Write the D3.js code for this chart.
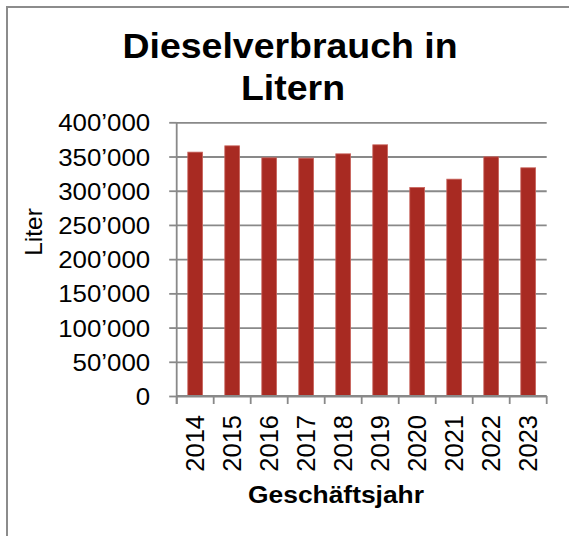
<!DOCTYPE html>
<html>
<head>
<meta charset="utf-8">
<script src="https://cdn.jsdelivr.net/npm/d3@7"></script>
<style>
  body { margin: 0; background: #fff; }
  text { font-family: Arial, "Liberation Sans", sans-serif; fill: #000; }
</style>
</head>
<body>
<div id="chart"></div>
<script>
// chart data
var years = ["2014", "2015", "2016", "2017", "2018", "2019", "2020", "2021", "2022", "2023"];
var liters = [356400, 365600, 348100, 347600, 353900, 367100, 304700, 316900, 349500, 333500];
var yTicks = [0, 50000, 100000, 150000, 200000, 250000, 300000, 350000, 400000];
var titleLines = ["Dieselverbrauch in", "Litern"];
var yTitle = "Liter";
var xTitle = "Geschäftsjahr";

var width = 569, height = 536;
var margin = { top: 122.3, right: 22.3, bottom: 140, left: 176.7 };
var plotW = width - margin.left - margin.right;
var plotH = height - margin.top - margin.bottom;
var gridColor = "#898989";

var fmt = d3.formatLocale({ decimal: ".", thousands: "\u2019", grouping: [3], currency: ["", ""] }).format(",");

var svg = d3.select("#chart").append("svg")
   .attr("width", width)
   .attr("height", height);

// outer frame (only left and top edges are visible in the crop)
svg.append("path")
   .attr("d", "M7,536V7H569")
   .attr("fill", "none")
   .attr("stroke", "#8c8c8c")
   .attr("stroke-width", 2);

// title
svg.append("g").selectAll("text")
   .data(titleLines)
   .enter().append("text")
   .attr("transform", function (d, i) {
      return "translate(" + (i === 0 ? 290 : 293) + "," + (i === 0 ? 58 : 100) + ") scale(1.07,1)";
   })
   .attr("text-anchor", "middle")
   .style("font-size", "35px")
   .style("font-weight", "bold")
   .text(function (d) { return d; });

var xCat = d3.scaleBand()
   .domain(years)
   .range([0, plotW]);

var xBar = d3.scaleBand()
   .domain(years)
   .range([0, plotW])
   .paddingInner(0.6)
   .paddingOuter(0.3);

var yScale = d3.scaleLinear()
   .domain([0, 400000])
   .range([plotH, 0]);

var g = svg.append("g")
   .attr("transform", "translate(" + margin.left + "," + margin.top + ")");

// gridlines
var grid = g.append("g")
   .call(d3.axisLeft(yScale).tickValues(yTicks).tickSize(-plotW).tickFormat(""));
grid.select(".domain").remove();
grid.selectAll("line")
   .attr("stroke", gridColor)
   .attr("stroke-width", 1.8);

// bars
g.append("g").selectAll("rect")
   .data(liters)
   .enter().append("rect")
   .attr("x", function (d, i) { return xBar(years[i]); })
   .attr("y", function (d) { return yScale(d); })
   .attr("width", xBar.bandwidth())
   .attr("height", function (d) { return plotH - yScale(d); })
   .attr("fill", "#a82a22")
   .attr("stroke", "#c9645d")
   .attr("stroke-width", 0.8);

// y axis
var gY = g.append("g")
   .call(d3.axisLeft(yScale).tickValues(yTicks).tickSize(7.5).tickPadding(0).tickFormat(fmt));
gY.select(".domain")
   .attr("d", "M0,0V" + (plotH + 8))
   .attr("stroke", gridColor)
   .attr("stroke-width", 1.8);
gY.selectAll(".tick line")
   .attr("stroke", gridColor)
   .attr("stroke-width", 1.8);
gY.selectAll(".tick text")
   .attr("x", null)
   .attr("dy", null)
   .attr("transform", "translate(-26.5,8.5) scale(1.1,1)")
   .style("font-size", "23.5px")
   .style("font-family", "Arial, 'Liberation Sans', sans-serif")
   .attr("fill", "#000");

// x axis baseline and category boundary ticks
var gX = g.append("g")
   .attr("transform", "translate(0," + plotH + ")");
gX.append("line")
   .attr("x1", 0).attr("x2", plotW)
   .attr("stroke", gridColor)
   .attr("stroke-width", 1.8);
gX.selectAll(".bound")
   .data(years.concat(["end"]))
   .enter().append("line")
   .attr("class", "bound")
   .attr("x1", function (d) { return d === "end" ? plotW : xCat(d); })
   .attr("x2", function (d) { return d === "end" ? plotW : xCat(d); })
   .attr("y1", 0).attr("y2", 8)
   .attr("stroke", gridColor)
   .attr("stroke-width", 1.8);

// x labels
gX.selectAll(".lbl")
   .data(years)
   .enter().append("text")
   .attr("class", "lbl")
   .attr("transform", function (d) {
      return "translate(" + (xBar(d) + xBar.bandwidth() / 2 + 8.5) + ",19) rotate(-90)";
   })
   .attr("text-anchor", "end")
   .style("font-size", "25.5px")
   .text(function (d) { return d; });

// axis titles
svg.append("text")
   .attr("transform", "translate(42,232) rotate(-90)")
   .attr("text-anchor", "middle")
   .style("font-size", "24.5px")
   .text(yTitle);

svg.append("text")
   .attr("transform", "translate(336,503) scale(1.1,1)")
   .attr("text-anchor", "middle")
   .style("font-size", "24px")
   .style("font-weight", "bold")
   .text(xTitle);
</script>
</body>
</html>
